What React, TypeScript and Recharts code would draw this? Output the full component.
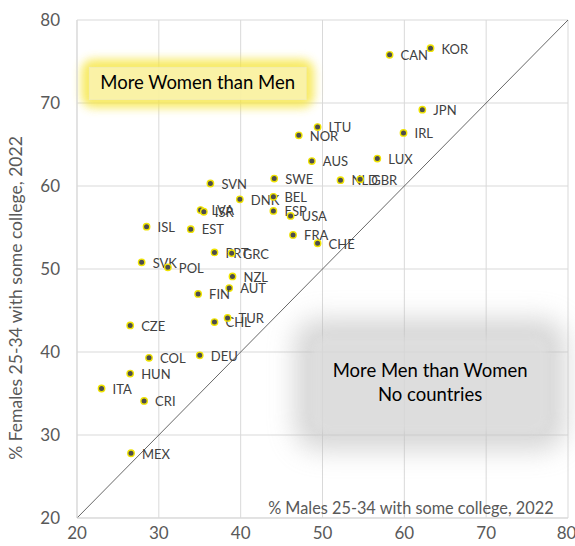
import React from 'react';
import { ScatterChart, Scatter, XAxis, YAxis, CartesianGrid, ReferenceLine, ReferenceArea } from 'recharts';

// OECD countries, share of 25-34 year olds with some college (2022)
const countries = ['KOR', 'CAN', 'JPN', 'IRL', 'LTU', 'NOR', 'AUS', 'LUX', 'SWE', 'NLD', 'GBR', 'SVN', 'DNK', 'BEL', 'LVA', 'ISR', 'ESP', 'USA', 'EST', 'FRA', 'CHE', 'PRT', 'GRC', 'ISL', 'SVK', 'POL', 'NZL', 'AUT', 'FIN', 'CHL', 'TUR', 'DEU', 'COL', 'CZE', 'HUN', 'ITA', 'CRI', 'MEX'];
const males = [63.2, 58.2, 62.2, 59.9, 49.4, 47.1, 48.7, 56.7, 44.1, 52.2, 54.6, 36.3, 39.9, 44.0, 35.1, 35.5, 44.0, 46.1, 33.9, 46.4, 49.4, 36.8, 38.9, 28.5, 27.9, 31.1, 39.0, 38.6, 34.8, 36.8, 38.4, 35.0, 28.8, 26.5, 26.5, 23.0, 28.2, 26.6];
const females = [76.6, 75.8, 69.2, 66.4, 67.1, 66.1, 63.0, 63.3, 60.9, 60.7, 60.8, 60.3, 58.4, 58.7, 57.1, 56.9, 57.0, 56.4, 54.8, 54.1, 53.1, 52.0, 51.9, 55.1, 50.8, 50.2, 49.1, 47.7, 47.0, 43.6, 44.1, 39.6, 39.3, 43.2, 37.4, 35.6, 34.1, 27.8];
const ticks = [20, 30, 40, 50, 60, 70, 80];

const data = countries.map((name, i) => ({ name, male: males[i], female: females[i] }));

const FONT = 'Lato, "Open Sans", sans-serif';
const GREY = '#595959';

const Dot = (props: any) => {
  const { cx, cy, payload } = props;
  return (
    <g>
      <circle cx={cx} cy={cy} r={3.2} fill="#4d4d4d" stroke="#f0e400" strokeWidth={1.4} />
      <text x={cx + 11} y={cy + 2} dominantBaseline="middle" fontSize={13} fontFamily={FONT} fill="#404040">
        {payload.name}
      </text>
    </g>
  );
};

const WomenBox = (props: any) => {
  const { x, y, width, height } = props;
  return (
    <g>
      <defs>
        <filter id="yglow" x="-30%" y="-80%" width="160%" height="260%">
          <feGaussianBlur stdDeviation="5" />
        </filter>
      </defs>
      <rect x={x - 8} y={y - 8} width={width + 16} height={height + 16} rx={12} fill="#f6e53c" opacity={0.8} filter="url(#yglow)" />
      <rect x={x} y={y} width={width} height={height} fill="#fbf5bd" opacity={0.75} stroke="#efecd0" strokeWidth={0.8} />
      <text x={x + width / 2} y={y + height / 2 + 1} textAnchor="middle" dominantBaseline="middle" fontSize={18.5} fontFamily={FONT} fill="#000">
        More Women than Men
      </text>
    </g>
  );
};

const MenBox = (props: any) => {
  const { x, y, width, height } = props;
  return (
    <g>
      <defs>
        <filter id="gglow" x="-40%" y="-60%" width="180%" height="220%">
          <feGaussianBlur stdDeviation="13" />
        </filter>
        <filter id="gsoft" x="-20%" y="-30%" width="140%" height="160%">
          <feGaussianBlur stdDeviation="3" />
        </filter>
      </defs>
      <rect x={x - 6} y={y - 6} width={width + 12} height={height + 12} rx={24} fill="#bcbcbc" opacity={0.6} filter="url(#gglow)" />
      <rect x={x + 12} y={y + 12} width={width - 24} height={height - 24} rx={14} fill="#e2e2e2" opacity={0.6} filter="url(#gsoft)" />
      <text x={x + width / 2} y={y + height / 2 - 12} textAnchor="middle" dominantBaseline="middle" fontSize={18.5} fontFamily={FONT} fill="#000">
        More Men than Women
      </text>
      <text x={x + width / 2} y={y + height / 2 + 12} textAnchor="middle" dominantBaseline="middle" fontSize={18.5} fontFamily={FONT} fill="#000">
        No countries
      </text>
    </g>
  );
};

export default function App() {
  return (
    <div style={{ position: 'absolute', left: 0, top: 0, background: '#fff' }}>
      <ScatterChart width={575} height={546} margin={{ top: 20, right: 7, bottom: 0, left: 0 }}>
        <CartesianGrid stroke="#d9d9d9" strokeWidth={1} />
        <XAxis
          type="number"
          dataKey="male"
          domain={[20, 80]}
          ticks={ticks}
          height={28}
          tickLine={false}
          tickSize={0}
          tickMargin={9}
          axisLine={{ stroke: '#d9d9d9' }}
          tick={{ fill: GREY, fontSize: 17, fontFamily: FONT }}
          label={{
            content: (p: any) => {
              const vb = p.viewBox;
              return (
                <text x={vb.x + vb.width * 0.68} y={vb.y - 4} textAnchor="middle" fontSize={16.3} fontFamily={FONT} fill={GREY}>
                  % Males 25-34 with some college, 2022
                </text>
              );
            },
          }}
        />
        <YAxis
          type="number"
          dataKey="female"
          domain={[20, 80]}
          ticks={ticks}
          width={77}
          tickLine={false}
          tickSize={0}
          tickMargin={17}
          axisLine={{ stroke: '#d9d9d9' }}
          tick={{ fill: GREY, fontSize: 17, fontFamily: FONT }}
          label={{
            content: (p: any) => {
              const vb = p.viewBox;
              const cx = 18;
              const cy = vb.y + vb.height / 2 + 29;
              return (
                <text x={cx} y={cy} transform={`rotate(-90 ${cx} ${cy})`} textAnchor="middle" dominantBaseline="middle" fontSize={17.5} fontFamily={FONT} fill={GREY}>
                  % Females 25-34 with some college, 2022
                </text>
              );
            },
          }}
        />
        <ReferenceArea x1={21.5} x2={48.0} y1={70.4} y2={74.3} shape={<WomenBox />} ifOverflow="visible" />
        <ReferenceArea x1={47.3} x2={79.0} y1={28.9} y2={43.3} shape={<MenBox />} ifOverflow="visible" />
        <ReferenceLine segment={[{ x: 20, y: 20 }, { x: 80, y: 80 }]} stroke="#404040" strokeWidth={0.8} />
        <Scatter data={data} shape={<Dot />} isAnimationActive={false} />
      </ScatterChart>
    </div>
  );
}
